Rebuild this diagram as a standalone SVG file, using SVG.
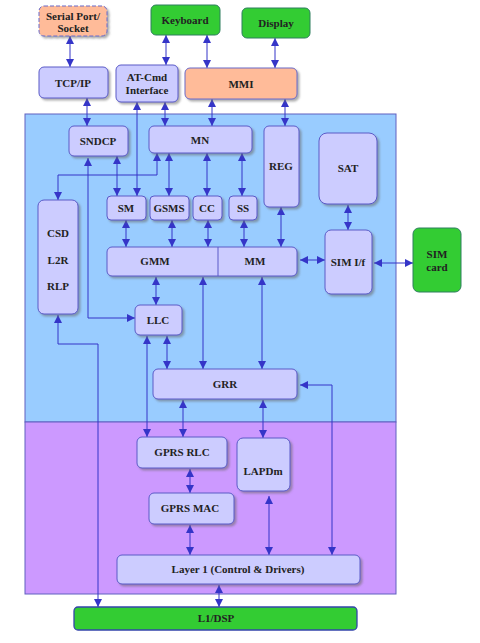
<svg xmlns="http://www.w3.org/2000/svg" width="480" height="643" viewBox="0 0 480 643">
<style>
.t{font-family:"Liberation Serif","Times New Roman",serif;font-weight:bold;font-size:11px;fill:#222;text-anchor:middle}
.b{fill:#CCCCFF;stroke:#5A5AC8;stroke-width:1;filter:url(#sh)}
.o{fill:#FFBB99;stroke:#6A6AC8;stroke-width:1;filter:url(#sh)}
.g{fill:#33CC33;stroke:#2F7F5F;stroke-width:1}
.c{fill:none;stroke:#3535C8;stroke-width:1;marker-start:url(#a);marker-end:url(#a)}
.c1{fill:none;stroke:#3535C8;stroke-width:1;marker-end:url(#a)}
</style>
<defs>
<filter id="sh" x="-10%" y="-10%" width="130%" height="140%">
<feDropShadow dx="2" dy="2" stdDeviation="0.8" flood-color="#666" flood-opacity="0.55"/>
</filter>
<marker id="a" viewBox="0 0 10 10" refX="10" refY="5" markerWidth="8" markerHeight="8" markerUnits="userSpaceOnUse" orient="auto-start-reverse">
<path d="M0,0 L10,5 L0,10 z" fill="#3535C8"/>
</marker>
</defs>
<g id="regions">
<rect x="25" y="114" width="371" height="308" fill="#99CCFF" stroke="#6060C0" stroke-width="1"/>
<rect x="25" y="422" width="371" height="172" fill="#CC99FF" stroke="#6060C0" stroke-width="1"/>
</g>
<g id="connectors">
<path class="c" d="M70,36 V67"/>
<path class="c" d="M166,35 V65"/>
<path class="c" d="M207,35 V68"/>
<path class="c" d="M275,38 V68"/>
<path class="c" d="M87,98 V126"/>
<path class="c" d="M137,102 V196"/>
<path class="c" d="M165,102 V126"/>
<path class="c" d="M212,99 V126"/>
<path class="c" d="M285,99 V126"/>
<path class="c" d="M117,156 V196"/>
<path class="c" d="M157,153 V175 H58 V200"/>
<path class="c" d="M169,153 V196"/>
<path class="c" d="M207,153 V196"/>
<path class="c" d="M242,153 V196"/>
<path class="c" d="M88,158 V318 H135"/>
<path class="c" d="M126,220 V247"/>
<path class="c" d="M172,220 V247"/>
<path class="c" d="M208,220 V247"/>
<path class="c" d="M244,220 V247"/>
<path class="c" d="M281,207 V247"/>
<path class="c" d="M300,260 H325"/>
<path class="c" d="M348,205 V230"/>
<path class="c" d="M374,263 H413" stroke-width="1.6"/>
<path class="c" d="M156,277 V305"/>
<path class="c" d="M203,277 V369"/>
<path class="c" d="M262,277 V369"/>
<path class="c" d="M58,315 V344 H98 V607"/>
<path class="c" d="M147,336 V437"/>
<path class="c" d="M167,336 V369"/>
<path class="c" d="M300,385 H332 V555"/>
<path class="c" d="M183,400 V437"/>
<path class="c" d="M263,400 V438"/>
<path class="c" d="M190,469 V493"/>
<path class="c" d="M190,525 V555"/>
<path class="c" d="M269,496 V555"/>
<path class="c" d="M219,585 V607"/>
</g>
<g id="serial">
<rect x="39" y="6" width="68" height="30" rx="5" class="o" stroke-dasharray="4,2"/>
<text class="t" x="73" y="20" font-size="10.5">Serial Port/</text>
<text class="t" x="73" y="32" font-size="10.5">Socket</text>
</g>
<g id="keyboard">
<rect x="151" y="5" width="69" height="30" rx="5" class="g"/>
<text class="t" x="185" y="24">Keyboard</text>
</g>
<g id="display">
<rect x="242" y="8" width="68" height="30" rx="5" class="g"/>
<text class="t" x="276" y="27">Display</text>
</g>
<g id="tcpip">
<rect x="39" y="67" width="69" height="31" rx="5" class="b"/>
<text class="t" x="73" y="87">TCP/IP</text>
</g>
<g id="atcmd">
<rect x="116" y="65" width="62" height="37" rx="5" class="b"/>
<text class="t" x="147" y="81">AT-Cmd</text>
<text class="t" x="147" y="94">Interface</text>
</g>
<g id="mmi">
<rect x="185" y="68" width="112" height="31" rx="5" class="o"/>
<text class="t" x="241" y="88">MMI</text>
</g>
<g id="sndcp">
<rect x="69" y="126" width="59" height="30" rx="5" class="b"/>
<text class="t" x="98" y="145">SNDCP</text>
</g>
<g id="mn">
<rect x="149" y="126" width="103" height="27" rx="5" class="b"/>
<text class="t" x="200" y="144">MN</text>
</g>
<g id="reg">
<rect x="264" y="126" width="35" height="81" rx="5" class="b"/>
<text class="t" x="281" y="170">REG</text>
</g>
<g id="sat">
<rect x="319" y="133" width="58" height="71" rx="8" class="b"/>
<text class="t" x="348" y="172">SAT</text>
</g>
<g id="sm">
<rect x="107" y="196" width="39" height="24" rx="4" class="b"/>
<text class="t" x="126" y="212">SM</text>
</g>
<g id="gsms">
<rect x="150" y="196" width="39" height="24" rx="4" class="b"/>
<text class="t" x="169" y="212">GSMS</text>
</g>
<g id="cc">
<rect x="193" y="196" width="29" height="24" rx="4" class="b"/>
<text class="t" x="207" y="212">CC</text>
</g>
<g id="ss">
<rect x="229" y="196" width="28" height="24" rx="4" class="b"/>
<text class="t" x="243" y="212">SS</text>
</g>
<g id="csd">
<rect x="38" y="200" width="40" height="114" rx="6" class="b"/>
<text class="t" x="58" y="237">CSD</text>
<text class="t" x="58" y="264">L2R</text>
<text class="t" x="58" y="290">RLP</text>
</g>
<g id="gmm-mm">
<rect x="107" y="247" width="190" height="29" rx="5" class="b"/>
<line x1="218" y1="247" x2="218" y2="276" stroke="#5A5AC8" stroke-width="1"/>
<text class="t" x="155" y="265">GMM</text>
<text class="t" x="255" y="265">MM</text>
</g>
<g id="simif">
<rect x="325" y="230" width="47" height="64" rx="6" class="b"/>
<text class="t" x="348" y="266">SIM I/f</text>
</g>
<g id="simcard">
<rect x="413" y="228" width="48" height="64" rx="6" class="g"/>
<text class="t" x="437" y="258">SIM</text>
<text class="t" x="437" y="271">card</text>
</g>
<g id="llc">
<rect x="135" y="305" width="47" height="30" rx="5" class="b"/>
<text class="t" x="158" y="324">LLC</text>
</g>
<g id="grr">
<rect x="153" y="369" width="144" height="30" rx="5" class="b"/>
<text class="t" x="225" y="388">GRR</text>
</g>
<g id="rlc">
<rect x="137" y="437" width="90" height="31" rx="5" class="b"/>
<text class="t" x="182" y="456">GPRS RLC</text>
</g>
<g id="lapdm">
<rect x="237" y="438" width="53" height="53" rx="6" class="b"/>
<text class="t" x="263" y="475">LAPDm</text>
</g>
<g id="mac">
<rect x="149" y="493" width="85" height="31" rx="5" class="b"/>
<text class="t" x="190" y="512">GPRS MAC</text>
</g>
<g id="layer1">
<rect x="117" y="555" width="243" height="29" rx="5" class="b"/>
<text class="t" x="238" y="573">Layer 1 (Control &amp; Drivers)</text>
</g>
<g id="l1dsp">
<rect x="74" y="607" width="283" height="23" rx="4" fill="#33CC33" stroke="#3344AA" stroke-width="1.3"/>
<text class="t" x="216" y="622">L1/DSP</text>
</g>
</svg>
